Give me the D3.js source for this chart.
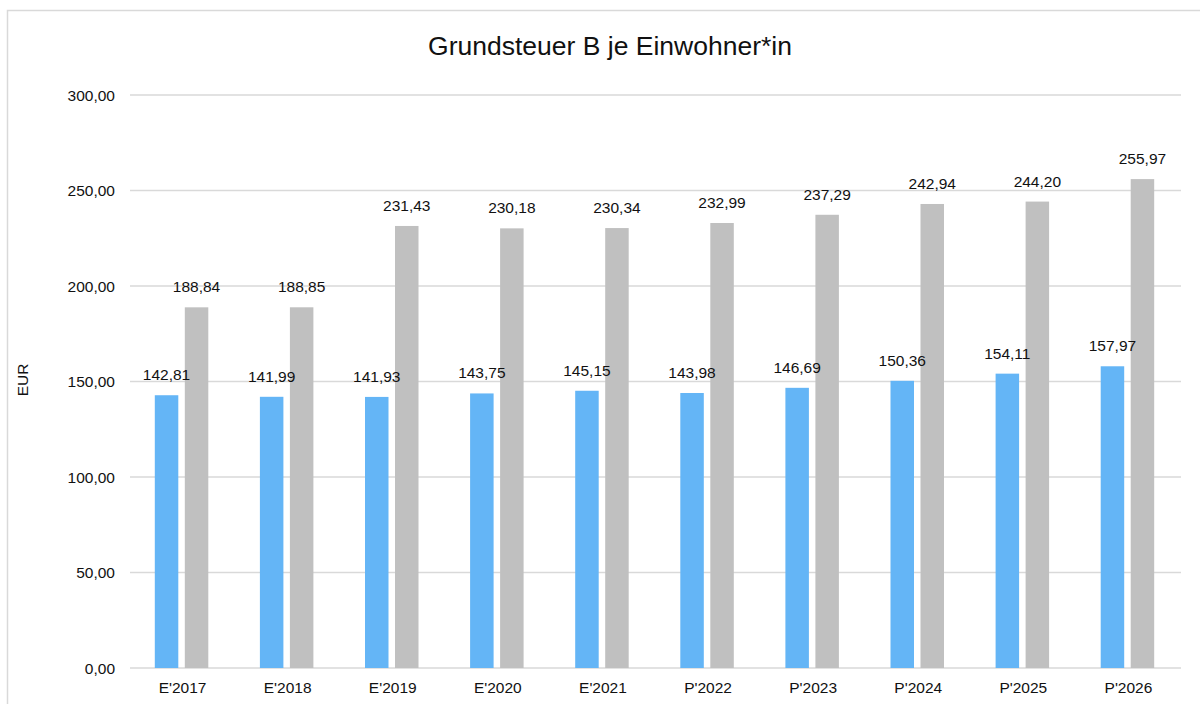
<!DOCTYPE html>
<html>
<head>
<meta charset="utf-8">
<script src="https://cdn.jsdelivr.net/npm/d3@7"></script>
<style>
  body { margin: 0; background: #fff; }
  svg { font-family: 'Liberation Sans', Arial, sans-serif; }
</style>
</head>
<body>
<div id="chart"></div>
<script>
// Grundsteuer B je Einwohner*in
var categories = ["E'2017", "E'2018", "E'2019", "E'2020", "E'2021", "P'2022", "P'2023", "P'2024", "P'2025", "P'2026"];
var seriesBlue = [142.81, 141.99, 141.93, 143.75, 145.15, 143.98, 146.69, 150.36, 154.11, 157.97];
var seriesGray = [188.84, 188.85, 231.43, 230.18, 230.34, 232.99, 237.29, 242.94, 244.20, 255.97];
var yTicks = [0, 50, 100, 150, 200, 250, 300];

var width = 1200, height = 704;
var plot = { left: 130, right: 1181, top: 95, bottom: 668 };
var fs = '15.5px';

var fmt = function(v) { return d3.format(".2f")(v).replace('.', ','); };

var svg = d3.select('#chart').append('svg')
	.attr('width', width).attr('height', height);

// outer frame
svg.append('rect')
	.attr('x', 7.5).attr('y', 10.5)
	.attr('width', 1200).attr('height', 720)
	.attr('fill', 'none').attr('stroke', '#d9d9d9').attr('stroke-width', 1.5);

var x = d3.scaleBand().domain(categories).range([plot.left, plot.right]);
var y = d3.scaleLinear().domain([0, 300]).range([plot.bottom, plot.top]);

var barW = 23.5, gap = 6.5;

// gridlines
svg.append('g').selectAll('line').data(yTicks).enter()
	.append('line')
	.attr('x1', plot.left).attr('x2', plot.right)
	.attr('y1', function(d) { return y(d); }).attr('y2', function(d) { return y(d); })
	.attr('stroke', '#d9d9d9').attr('stroke-width', 1.5);

// y tick labels
svg.append('g').selectAll('text').data(yTicks).enter()
	.append('text')
	.attr('x', 115).attr('y', function(d) { return y(d) + 5.5; })
	.attr('text-anchor', 'end').attr('font-size', fs).attr('fill', '#111')
	.text(function(d) { return fmt(d); });

// x labels
svg.append('g').selectAll('text').data(categories).enter()
	.append('text')
	.attr('x', function(d) { return x(d) + x.bandwidth() / 2; })
	.attr('y', 693)
	.attr('text-anchor', 'middle').attr('font-size', fs).attr('fill', '#111')
	.text(function(d) { return d; });

var series = [
	{ values: seriesBlue, color: '#64b5f6', offset: -barW - gap / 2 - 1 },
	{ values: seriesGray, color: '#c0c0c0', offset: gap / 2 - 1 }
];

// bars first, then value labels on top
series.forEach(function(s) {
	svg.append('g').selectAll('rect').data(s.values).enter()
		.append('rect')
		.attr('x', function(d, i) { return x(categories[i]) + x.bandwidth() / 2 + s.offset; })
		.attr('y', function(d) { return y(d); })
		.attr('width', barW)
		.attr('height', function(d) { return y(0) - y(d); })
		.attr('fill', s.color);
});
series.forEach(function(s) {
	svg.append('g').selectAll('text').data(s.values).enter()
		.append('text')
		.attr('x', function(d, i) { return x(categories[i]) + x.bandwidth() / 2 + s.offset + barW / 2; })
		.attr('y', function(d) { return y(d) - 15; })
		.attr('text-anchor', 'middle').attr('font-size', fs).attr('fill', '#111')
		.text(function(d) { return fmt(d); });
});

// title
svg.append('text')
	.attr('x', 610).attr('y', 55)
	.attr('text-anchor', 'middle').attr('font-size', '26.5px').attr('fill', '#111')
	.text('Grundsteuer B je Einwohner*in');

// y axis label
svg.append('text')
	.attr('transform', 'translate(28,380) rotate(-90)')
	.attr('text-anchor', 'middle').attr('font-size', fs).attr('fill', '#111')
	.text('EUR');
</script>
</body>
</html>
